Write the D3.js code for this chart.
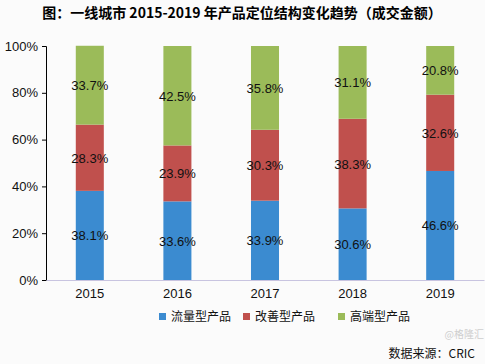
<!DOCTYPE html>
<html>
<head>
<meta charset="utf-8">
<script src="https://cdn.jsdelivr.net/npm/d3@7"></script>
<style>
  body { margin: 0; background: #fbfbfb; }
  svg { display: block; font-family: "Liberation Sans", Arial, "Noto Sans CJK SC", sans-serif; }
</style>
</head>
<body>
<svg id="chart"></svg>
<script>
const years = ["2015", "2016", "2017", "2018", "2019"];
const seriesNames = ["流量型产品", "改善型产品", "高端型产品"];
const flowShare = [38.1, 33.6, 33.9, 30.6, 46.6];
const improveShare = [28.3, 23.9, 30.3, 38.3, 32.6];
const highShare = [33.7, 42.5, 35.8, 31.1, 20.8];
const yTicks = [0, 20, 40, 60, 80, 100];
const colors = ["#3b8bd0", "#c0504d", "#9bbb59"];

const width = 485, height = 364;
const margin = { top: 46, right: 1, bottom: 84, left: 46 };

const svg = d3.select("#chart").attr("width", width).attr("height", height);

// fond
svg.append("rect").attr("width", width).attr("height", height).attr("fill", "#fbfbfb");

// titre
svg.append("text")
    .attr("x", 242).attr("y", 18)
    .attr("text-anchor", "middle")
    .attr("font-size", 14).attr("font-weight", "bold")
    .attr("font-family", "'Noto Sans CJK SC', sans-serif")
    .text("图：一线城市 2015-2019 年产品定位结构变化趋势（成交金额）");

const table = years.map((y, i) => ({ year: y, s0: flowShare[i], s1: improveShare[i], s2: highShare[i] }));
const stacked = d3.stack().keys(["s0", "s1", "s2"])(table);

const x = d3.scaleBand().domain(years).range([margin.left, width - margin.right]).paddingInner(0.68).paddingOuter(0.34);
const y = d3.scaleLinear().domain([0, 100]).range([height - margin.bottom, margin.top]);

// barres
const layers = svg.append("g").selectAll("g")
  .data(stacked).join("g")
    .attr("fill", (d, i) => colors[i]);

layers.selectAll("rect")
  .data(d => d)
  .join("rect")
    .attr("x", d => x(d.data.year))
    .attr("y", d => y(d[1]))
    .attr("width", x.bandwidth())
    .attr("height", d => y(d[0]) - y(d[1]));

// étiquettes
layers.selectAll("text")
  .data(d => d.map(v => ({ v, key: d.key })))
  .join("text")
    .attr("x", d => x(d.v.data.year) + x.bandwidth() / 2)
    .attr("y", d => y((d.v[0] + d.v[1]) / 2) + 5)
    .attr("text-anchor", "middle")
    .attr("font-size", 13)
    .attr("fill", "#111")
    .text(d => d.v.data[d.key].toFixed(1) + "%");

// axe y
const yAxis = svg.append("g")
    .attr("transform", `translate(${margin.left},0)`)
    .call(d3.axisLeft(y).tickValues(yTicks).tickFormat(d => d + "%").tickSize(4).tickPadding(4));
yAxis.select(".domain").attr("stroke", "#000");
yAxis.selectAll(".tick line").attr("stroke", "#000");
yAxis.selectAll("text").attr("font-size", 13).attr("fill", "#111");

// axe x
const xAxis = svg.append("g")
    .attr("transform", `translate(0,${height - margin.bottom})`)
    .call(d3.axisBottom(x).tickSize(0).tickPadding(9));
xAxis.select(".domain").attr("stroke", "#c8c4e0");
xAxis.selectAll("text").attr("font-size", 13).attr("fill", "#111");

// légende
const legendX = [159, 243, 338];
const legend = svg.append("g").selectAll("g")
  .data(seriesNames).join("g")
    .attr("transform", (d, i) => `translate(${legendX[i]},317)`);
legend.append("rect").attr("x", 0).attr("y", -4).attr("width", 7).attr("height", 7)
    .attr("fill", (d, i) => colors[i]);
legend.append("text").attr("x", 12).attr("y", 4)
    .attr("font-size", 12).attr("fill", "#111")
    .attr("font-family", "'Noto Sans CJK SC', sans-serif")
    .text(d => d);

// source
svg.append("text")
    .attr("x", 475).attr("y", 358)
    .attr("text-anchor", "end")
    .attr("font-size", 12).attr("fill", "#111")
    .attr("font-family", "'Noto Sans CJK SC', sans-serif")
    .text("数据来源：CRIC");
svg.append("text")
    .attr("x", 484).attr("y", 338)
    .attr("text-anchor", "end")
    .attr("font-size", 10).attr("fill", "#bbb").attr("opacity", 0.7)
    .attr("font-family", "'Noto Sans CJK SC', sans-serif")
    .text("@格隆汇");
</script>
</body>
</html>
